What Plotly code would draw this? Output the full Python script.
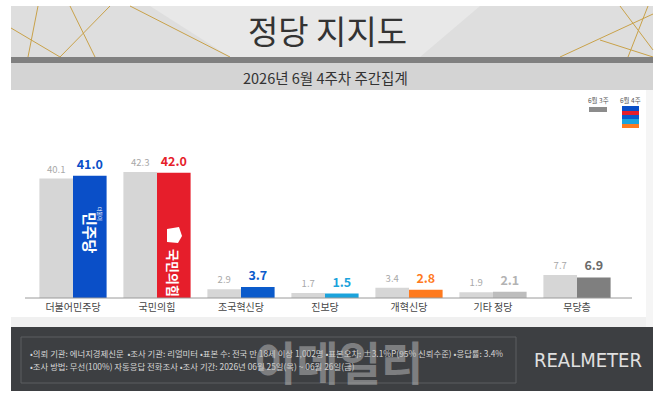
import plotly.graph_objects as go

# ---------------- data ----------------
categories = ["더불어민주당", "국민의힘", "조국혁신당", "진보당", "개혁신당", "기타 정당", "무당층"]
prev_week = [40.1, 42.3, 2.9, 1.7, 3.4, 1.9, 7.7]
curr_week = [41.0, 42.0, 3.7, 1.5, 2.8, 2.1, 6.9]
curr_colors = ["#0a4fc8", "#e61e2b", "#0b5bcb", "#1ba3dc", "#ff7a1e", "#bdbdbd", "#7f7f7f"]
curr_text_colors = ["#0a4fc8", "#e61e2b", "#0b5bcb", "#1ba3dc", "#ff7a1e", "#b3b3b3", "#6b6b6b"]
prev_label = "6월 3주"
curr_label = "6월 4주"
title_text = "정당 지지도"
subtitle_text = "2026년 6월 4주차 주간집계"
footer_line1 = "•의뢰 기관: 에너지경제신문  •조사 기관: 리얼미터 •표본 수: 전국 만 18세 이상 1,002명 •표본오차: ±3.1%P(95% 신뢰수준) •응답률: 3.4%"
footer_line2 = "•조사 방법: 무선(100%) 자동응답 전화조사 •조사 기간: 2026년 06월 25일(목) ~ 06월 26일(금)"

FONT = "Noto Sans CJK KR"
WIDTH, HEIGHT = 670, 395
L, R, T, B = 31, 51, 149, 97
PW = WIDTH - L - R
PH = HEIGHT - T - B


def px(x):
    return (x - L) / PW


def py(y):
    return (HEIGHT - B - y) / PH


fig = go.Figure()
fig.add_trace(go.Bar(
    x=categories, y=prev_week, name=prev_label,
    marker=dict(color="#d6d6d6", line=dict(width=0)),
    text=[f"{v:.1f}" for v in prev_week], textposition="outside",
    textfont=dict(family=FONT, size=9.5, color="#a8a8a8"),
    cliponaxis=False, constraintext="none", showlegend=False,
))
fig.add_trace(go.Bar(
    x=categories, y=curr_week, name=curr_label,
    marker=dict(color=curr_colors, line=dict(width=0)),
    text=[f"{v:.1f}" for v in curr_week], textposition="outside",
    textfont=dict(family=FONT, size=12.5, color=curr_text_colors, weight="bold"),
    cliponaxis=False, constraintext="none", showlegend=False,
))

shapes = []
annotations = []


def rect(x0, y0, x1, y1, color, line=None, layer="below"):
    shapes.append(dict(type="rect", xref="paper", yref="paper",
                       x0=px(x0), x1=px(x1), y0=py(y1), y1=py(y0),
                       fillcolor=color, line=line or dict(width=0), layer=layer))


def seg(x0, y0, x1, y1, color, width=1, layer="below"):
    shapes.append(dict(type="line", xref="paper", yref="paper",
                       x0=px(x0), x1=px(x1), y0=py(y0), y1=py(y1),
                       line=dict(color=color, width=width), layer=layer))


def text(x, y, s, size, color, weight="normal", family=FONT, angle=0, xanchor="center"):
    annotations.append(dict(xref="paper", yref="paper", x=px(x), y=py(y), text=s,
                            showarrow=False, xanchor=xanchor, yanchor="middle",
                            textangle=angle,
                            font=dict(family=family, size=size, color=color, weight=weight)))


# chart panel background
rect(11, 90, 653, 327, "#ffffff")
rect(11, 317, 653, 327, "#f0f0f0")
rect(646, 90, 653, 327, "#f5f5f5")

# title banner
rect(11, 6, 653, 57, "#dedede")
shapes.append(dict(type="path", xref="paper", yref="paper", layer="below",
                   path=f"M {px(150)},{py(6)} L {px(480)},{py(6)} L {px(420)},{py(57)} L {px(230)},{py(57)} Z",
                   fillcolor="#e8e8e8", line=dict(width=0)))
gold = "#c9a24a"
seg(11, 28, 60, 57, gold)
seg(38, 6, 28, 57, gold)
seg(70, 6, 95, 57, gold)
seg(110, 6, 60, 57, gold)
seg(130, 6, 230, 57, gold)
seg(560, 57, 653, 14, gold)
seg(620, 6, 653, 50, gold)
seg(648, 6, 628, 57, gold)
seg(600, 40, 653, 57, gold)
rect(11, 57, 653, 63, "#808080")
rect(11, 63, 653, 90, "#d4d4d4")
text(328, 30, title_text, 33, "#333333")
text(326, 77, subtitle_text, 14.5, "#333333")

# legend (top-right)
text(598, 100, prev_label, 6.5, "#555555")
text(630, 100, curr_label, 6.5, "#555555")
rect(589, 107, 607, 112, "#8c8c8c")
stripe_cols = ["#0a4fc8", "#e61e2b", "#0b5bcb", "#1ba3dc", "#ff7a1e"]
stripe_y = [106, 111, 115, 119, 124, 128]
for i, c in enumerate(stripe_cols):
    rect(622, stripe_y[i], 639, stripe_y[i + 1], c)

# baseline
seg(25, 298, 632, 298, "#9a9a9a", 1, layer="above")

# party logos on bars
text(91, 233, "민주당", 15, "#ffffff", weight="bold", angle=90)
text(100, 214, "더불어", 5, "#ffffff", angle=90)
shapes.append(dict(type="path", xref="paper", yref="paper", layer="above",
                   path=f"M {px(167)},{py(229)} L {px(179)},{py(227)} L {px(182)},{py(236)} L {px(178)},{py(243)} L {px(167)},{py(242)} Z",
                   fillcolor="#ffffff", line=dict(width=0)))
text(174, 273, "국민의힘", 13, "#ffffff", weight="bold", angle=90)

# footer
rect(11, 327, 653, 391, "#3d3f42")
rect(21, 337, 516, 383, "rgba(0,0,0,0)", line=dict(color="#5c5e61", width=1))
text(28, 353, footer_line1, 8.4, "#d6d6d6", xanchor="left")
text(28, 366, footer_line2, 8.4, "#d6d6d6", xanchor="left")
text(588, 360, "REALMETER", 20, "#e0e0e0", family="DejaVu Sans Condensed, DejaVu Sans")
text(338, 360, "이데일리", 46, "rgba(190,190,190,0.5)", weight="bold")

fig.update_layout(
    width=WIDTH, height=HEIGHT,
    margin=dict(l=L, r=R, t=T, b=B, pad=0),
    paper_bgcolor="#ffffff", plot_bgcolor="rgba(0,0,0,0)",
    barmode="group", bargap=0.2, bargroupgap=0,
    shapes=shapes, annotations=annotations,
    font=dict(family=FONT),
    xaxis=dict(showgrid=False, showline=False, zeroline=False, ticks="",
               tickfont=dict(family=FONT, size=10, color="#444444"), ticklabelstandoff=2),
    yaxis=dict(range=[0, 50], visible=False, showgrid=False, zeroline=False),
)

fig.write_html("out.html")
